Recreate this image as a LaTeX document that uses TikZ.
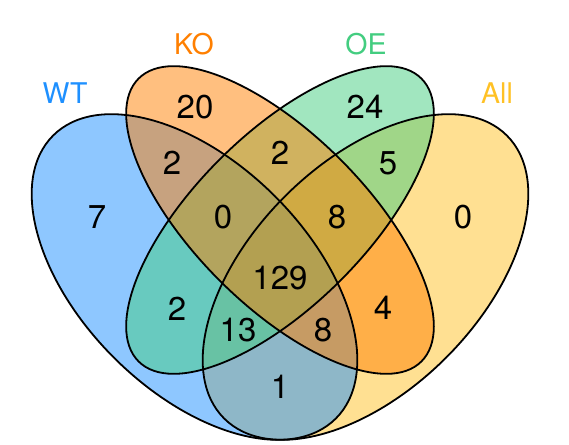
\documentclass[tikz,border=0pt]{standalone}
\usepackage{fontspec}
\setmainfont{TeX Gyre Heros}
\usepackage{tikz}

\definecolor{wtblue}{HTML}{1E90FF}
\definecolor{koorange}{HTML}{FF7F00}
\definecolor{oegreen}{HTML}{43CD80}
\definecolor{allgold}{HTML}{FFC125}

\begin{document}
\begin{tikzpicture}[x = 1pt, y = 1pt,
        setfill/.style = {fill opacity = 0.5},
        setline/.style = {draw, line width = 1.8pt},
        count/.style = {inner sep = 0pt, font = \fontsize{33}{33}\selectfont},
        title/.style = {inner sep = 0pt, font = \fontsize{28.5}{28.5}\selectfont}]
    \useasboundingbox (0, 0) rectangle (569, 444);

    % ellipse centres
    \coordinate (cWT) at (194.5, 167);
    \coordinate (cKO) at (280, 224);
    \coordinate (cOE) at (280, 224);
    \coordinate (cAll) at (365.5, 167);

    % fills first
    \fill[setfill, allgold, rotate around = {45:(cAll)}] (cAll) ellipse [x radius = 200, y radius = 114];
    \fill[setfill, wtblue, rotate around = {-45:(cWT)}] (cWT) ellipse [x radius = 200, y radius = 114];
    \fill[setfill, oegreen, rotate around = {45:(cOE)}] (cOE) ellipse [x radius = 200, y radius = 85.5];
    \fill[setfill, koorange, rotate around = {-45:(cKO)}] (cKO) ellipse [x radius = 200, y radius = 85.5];

    % then outlines
    \draw[setline, rotate around = {-45:(cWT)}] (cWT) ellipse [x radius = 200, y radius = 114];
    \draw[setline, rotate around = {-45:(cKO)}] (cKO) ellipse [x radius = 200, y radius = 85.5];
    \draw[setline, rotate around = {45:(cOE)}] (cOE) ellipse [x radius = 200, y radius = 85.5];
    \draw[setline, rotate around = {45:(cAll)}] (cAll) ellipse [x radius = 200, y radius = 114];

    % set names
    \node[title, text = wtblue] at (65, 351) (WT) {WT};
    \node[title, text = koorange] at (194, 400) (KO) {KO};
    \node[title, text = oegreen] at (366, 400) (OE) {OE};
    \node[title, text = allgold] at (497, 351) (All) {All};

    % counts
    \node[count] at (195, 337) (k) {20};
    \node[count] at (365, 337) (o) {24};
    \node[count] at (172, 281) (wk) {2};
    \node[count] at (280, 291) (ko) {2};
    \node[count] at (388, 281) (oa) {5};
    \node[count] at (97, 227) (w) {7};
    \node[count] at (223, 227) (wko) {0};
    \node[count] at (337, 227) (koa) {8};
    \node[count] at (463, 227) (a) {0};
    \node[count] at (280, 166) (wkoa) {129};
    \node[count] at (177, 135) (wo) {2};
    \node[count] at (383, 136) (ka) {4};
    \node[count] at (238, 114) (woa) {13};
    \node[count] at (323, 114) (wka) {8};
    \node[count] at (280, 57) (wa) {1};
\end{tikzpicture}
\end{document}
